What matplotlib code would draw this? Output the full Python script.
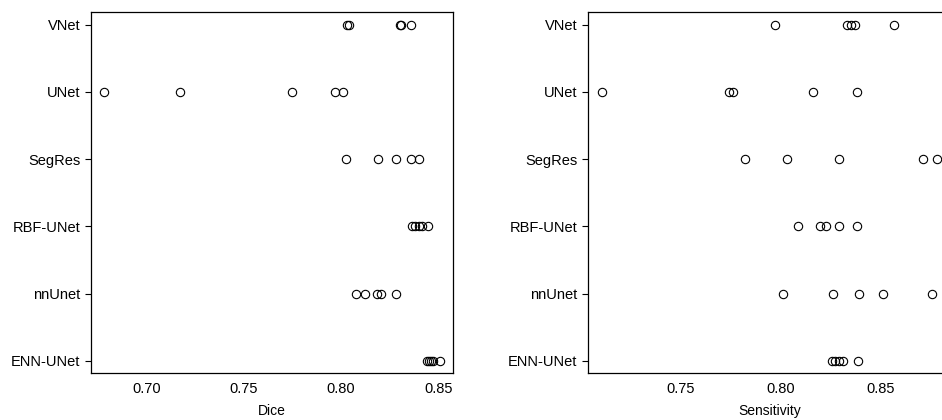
import matplotlib
matplotlib.use('Agg')
import matplotlib.pyplot as plt
import numpy as np

plt.rcParams['font.family'] = ['Liberation Sans', 'DejaVu Sans']
plt.rcParams['font.size'] = 10.5

models = ['VNet', 'UNet', 'SegRes', 'RBF-UNet', 'nnUnet', 'ENN-UNet']

# Dice per fold
dice_vnet = [0.8029, 0.8040, 0.8305, 0.8310, 0.8359]
dice_unet = [0.6782, 0.7173, 0.7749, 0.7970, 0.8011]
dice_segres = [0.8023, 0.8191, 0.8284, 0.8358, 0.8401]
dice_rbf = [0.8366, 0.8383, 0.8400, 0.8414, 0.8447]
dice_nnunet = [0.8078, 0.8121, 0.8184, 0.8205, 0.8284]
dice_enn = [0.8440, 0.8452, 0.8462, 0.8474, 0.8508]

# Sensitivity per fold
sens_vnet = [0.7972, 0.8332, 0.8353, 0.8375, 0.8567]
sens_unet = [0.7108, 0.7742, 0.7762, 0.8163, 0.8382]
sens_segres = [0.7823, 0.8035, 0.8293, 0.8715, 0.8782]
sens_rbf = [0.8088, 0.8198, 0.8230, 0.8293, 0.8383]
sens_nnunet = [0.8013, 0.8263, 0.8392, 0.8513, 0.8760]
sens_enn = [0.8257, 0.8273, 0.8295, 0.8312, 0.8387]

dice = [dice_vnet, dice_unet, dice_segres, dice_rbf, dice_nnunet, dice_enn]
sens = [sens_vnet, sens_unet, sens_segres, sens_rbf, sens_nnunet, sens_enn]

fig = plt.figure(figsize=(9.42, 4.2), dpi=100)
ax1 = fig.add_axes([91/942, 1-373/420, 362/942, 361/420])
ax2 = fig.add_axes([588.3/942, 1-373/420, 362/942, 361/420])

def dotplot(ax, data, xlabel, xlim, ticks):
    for i, vals in enumerate(data):
        ax.plot(vals, [i]*len(vals), linestyle='none', marker='o',
                markersize=6.0, markerfacecolor='none',
                markeredgecolor='k', markeredgewidth=0.8)
    ax.set_yticks(range(len(models)))
    ax.set_yticklabels(models)
    ax.set_ylim(len(models) - 1 + 0.18, -0.19)
    ax.set_xlim(xlim)
    ax.set_xticks(ticks)
    ax.set_xticklabels(['%.2f' % t for t in ticks])
    ax.set_xlabel(xlabel, fontsize=10, labelpad=6)
    ax.tick_params(axis='y', length=4.3, width=0.8, pad=3.5)
    ax.tick_params(axis='x', length=0, pad=6.5)
    for s in ax.spines.values():
        s.set_linewidth(0.9)

dotplot(ax1, dice, 'Dice', (0.6713, 0.8576), [0.70, 0.75, 0.80, 0.85])
dotplot(ax2, sens, 'Sensitivity', (0.7040, 0.8850), [0.75, 0.80, 0.85])

plt.savefig('out.png', dpi=100)
